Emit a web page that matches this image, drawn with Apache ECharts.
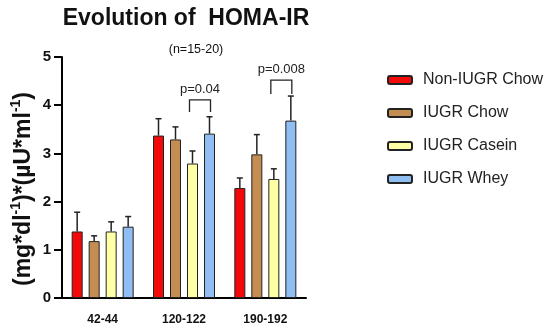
<!DOCTYPE html>
<html>
<head>
<meta charset="utf-8">
<script src="https://cdn.jsdelivr.net/npm/echarts@6/dist/echarts.min.js"></script>
<style>html,body{margin:0;padding:0;background:#fff}#c{width:550px;height:330px}</style>
</head>
<body>
<div id="c"></div>
<script>
const categories = ['42-44', '120-122', '190-192'];
const seriesNames = ['Non-IUGR Chow', 'IUGR Chow', 'IUGR Casein', 'IUGR Whey'];
const nonIugrChow = [1.38, 3.37, 2.28];
const iugrChow = [1.18, 3.29, 2.98];
const iugrCasein = [1.38, 2.79, 2.47];
const iugrWhey = [1.48, 3.41, 3.68];
const nonIugrChowErr = [1.78, 3.72, 2.49];
const iugrChowErr = [1.29, 3.55, 3.39];
const iugrCaseinErr = [1.58, 3.05, 2.68];
const iugrWheyErr = [1.69, 3.76, 4.19];
const yTicks = [0, 1, 2, 3, 4, 5];
// [category index, from series, to series, leg bottom, bracket top, label]
const brackets = [
  [1, 2, 3, 3.86, 4.11, 'p=0.04'],
  [2, 2, 3, 4.23, 4.52, 'p=0.008']
];

const colors = ['#f20a0a', '#c48d52', '#ffffa6', '#90bdf2'];
const means = [nonIugrChow, iugrChow, iugrCasein, iugrWhey];
const errs = [nonIugrChowErr, iugrChowErr, iugrCaseinErr, iugrWheyErr];
const BW = 11, STEP = 17;
const off = i => (i - 1.5) * STEP;
const font = '"Liberation Sans", Arial, sans-serif';

const errData = [];
means.forEach((arr, s) => arr.forEach((v, c) => errData.push([c, s, v, errs[s][c]])));

const chart = echarts.init(document.getElementById('c'));
chart.setOption({
  animation: false,
  textStyle: { fontFamily: font },
  title: [
    { text: 'Evolution of  HOMA-IR', left: 181, top: 2, textAlign: 'center',
      textStyle: { fontSize: 23, fontWeight: 'bold', color: '#111', fontFamily: font } },
    { text: '(n=15-20)', left: 191, top: 38, textAlign: 'center',
      textStyle: { fontSize: 12.5, fontWeight: 'normal', color: '#111', fontFamily: font } }
  ],
  graphic: [{
    type: 'text', x: 22, y: 189, rotation: Math.PI / 2, silent: true,
    style: {
      text: '{b|(mg*dl}{s|-1}{b|)*(µU*ml}{s|-1}{b|)}',
      align: 'center', verticalAlign: 'middle',
      rich: {
        b: { fontSize: 23, fontWeight: 'bold', fill: '#111', fontFamily: font, lineHeight: 26, verticalAlign: 'bottom' },
        s: { fontSize: 14, fontWeight: 'bold', fill: '#111', fontFamily: font, lineHeight: 26, verticalAlign: 'top', padding: [0, 0, 10, 0] }
      }
    }
  }],
  legend: {
    orient: 'vertical', left: 382, top: 67, itemWidth: 24, itemHeight: 8, itemGap: 17,
    data: seriesNames,
    textStyle: { fontSize: 16, color: '#222', fontFamily: font, padding: [0, 0, 0, 6] }
  },
  grid: { left: 62, width: 244, top: 57, bottom: 32 },
  xAxis: {
    type: 'category', data: categories,
    axisLine: { lineStyle: { color: '#000', width: 2 } },
    axisTick: { alignWithLabel: true, length: 9, lineStyle: { color: '#000', width: 2 } },
    axisLabel: { color: '#111', fontWeight: 'bold', fontSize: 12, margin: 16, fontFamily: font }
  },
  yAxis: {
    type: 'value', min: 0, max: 5, interval: 1,
    splitLine: { show: false },
    axisLine: { show: true, lineStyle: { color: '#000', width: 2 } },
    axisTick: { show: true, length: 8, lineStyle: { color: '#000', width: 2 } },
    axisLabel: { color: '#111', fontWeight: 'bold', fontSize: 15, margin: 11, fontFamily: font,
      formatter: v => yTicks.includes(v) ? String(v) : '' }
  },
  series: [
    ...seriesNames.map((n, i) => ({
      name: n, type: 'bar', data: means[i], barWidth: BW, barGap: ((STEP - BW) / BW * 100) + '%',
      itemStyle: { color: colors[i], borderColor: '#222', borderWidth: 1 }
    })),
    {
      type: 'custom', name: 'err', silent: true, z: 1,
      data: errData,
      renderItem: (params, api) => {
        const c = api.value(0), s = api.value(1);
        const p0 = api.coord([c, api.value(2)]);
        const p1 = api.coord([c, api.value(3)]);
        const x = p0[0] + off(s);
        const st = { stroke: '#222', lineWidth: 1.5 };
        return { type: 'group', children: [
          { type: 'line', shape: { x1: x, y1: p0[1], x2: x, y2: p1[1] }, style: st },
          { type: 'line', shape: { x1: x - 3, y1: p1[1], x2: x + 3, y2: p1[1] }, style: st }
        ] };
      }
    },
    {
      type: 'custom', name: 'sig', silent: true,
      data: brackets,
      renderItem: (params, api) => {
        const c = api.value(0);
        const a = api.coord([c, api.value(3)]);
        const b = api.coord([c, api.value(4)]);
        const x1 = a[0] + off(api.value(1)) - 3, x2 = a[0] + off(api.value(2)) + 1;
        const st = { stroke: '#222', lineWidth: 1.3, fill: null };
        return { type: 'group', children: [
          { type: 'polyline', shape: { points: [[x1, a[1]], [x1, b[1]], [x2, b[1]], [x2, a[1]]] }, style: st },
          { type: 'text', style: { text: brackets[params.dataIndex][5], x: (x1 + x2) / 2, y: b[1] - 4,
            textAlign: 'center', textVerticalAlign: 'bottom', fontSize: 13, fill: '#222', fontFamily: font } }
        ] };
      }
    }
  ]
});
</script>
</body>
</html>
